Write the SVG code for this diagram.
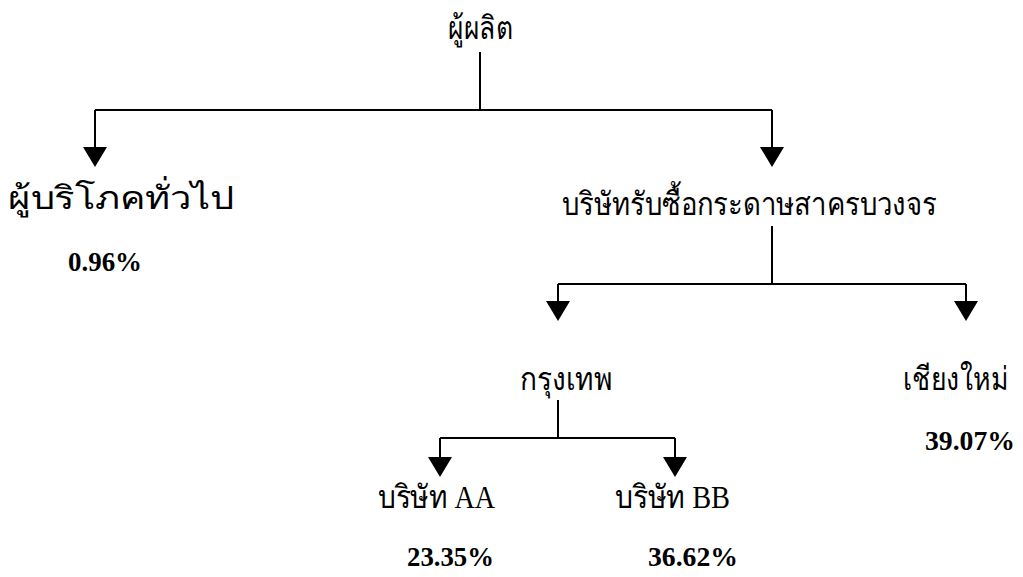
<svg xmlns="http://www.w3.org/2000/svg" width="1023" height="577" viewBox="0 0 1023 577">
<defs>
<style>
.th{font-family:"Liberation Serif","DejaVu Serif",serif;font-size:32px;fill:#000}
.pc{font-family:"Liberation Serif",serif;font-size:27px;font-weight:bold;fill:#000}
.ln{stroke:#000;stroke-width:2;fill:none}
</style>
</defs>
<rect width="1023" height="577" fill="#fff"/>
<g id="connectors">
<path class="ln" d="M480,52 V110"/>
<path class="ln" d="M95,110 H772"/>
<path class="ln" d="M95,110 V160"/>
<path class="ln" d="M772,110 V160"/>
<polygon points="83,147 107,147 95,167"/>
<polygon points="760,147 784,147 772,167"/>
<path class="ln" d="M772,226 V284"/>
<path class="ln" d="M558,284 H966"/>
<path class="ln" d="M558,284 V315"/>
<path class="ln" d="M966,284 V315"/>
<polygon points="546,301 570,301 558,321"/>
<polygon points="954,301 978,301 966,321"/>
<path class="ln" d="M558,400 V438"/>
<path class="ln" d="M440,438 H675"/>
<path class="ln" d="M440,438 V470"/>
<path class="ln" d="M675,438 V470"/>
<polygon points="428,457 452,457 440,477"/>
<polygon points="663,457 687,457 675,477"/>
</g>
<g id="producer"><text class="th" x="448" y="39" textLength="65" lengthAdjust="spacingAndGlyphs">ผู้ผลิต</text></g>
<g id="consumer"><text class="th" x="8" y="209" textLength="226" lengthAdjust="spacingAndGlyphs">ผู้บริโภคทั่วไป</text><text class="pc" x="68" y="271" textLength="74" lengthAdjust="spacingAndGlyphs">0.96%</text></g>
<g id="company"><text class="th" x="562" y="215" textLength="375" lengthAdjust="spacingAndGlyphs">บริษัทรับซื้อกระดาษสาครบวงจร</text></g>
<g id="bangkok"><text class="th" x="520" y="390" textLength="92" lengthAdjust="spacingAndGlyphs">กรุงเทพ</text></g>
<g id="chiangmai"><text class="th" x="903" y="390" textLength="105" lengthAdjust="spacingAndGlyphs">เชียงใหม่</text><text class="pc" x="925" y="450" textLength="90" lengthAdjust="spacingAndGlyphs">39.07%</text></g>
<g id="aa"><text class="th" x="378" y="508" textLength="117" lengthAdjust="spacingAndGlyphs">บริษัท AA</text><text class="pc" x="407" y="566" textLength="87" lengthAdjust="spacingAndGlyphs">23.35%</text></g>
<g id="bb"><text class="th" x="615" y="508" textLength="115" lengthAdjust="spacingAndGlyphs">บริษัท BB</text><text class="pc" x="648" y="566" textLength="90" lengthAdjust="spacingAndGlyphs">36.62%</text></g>
</svg>
